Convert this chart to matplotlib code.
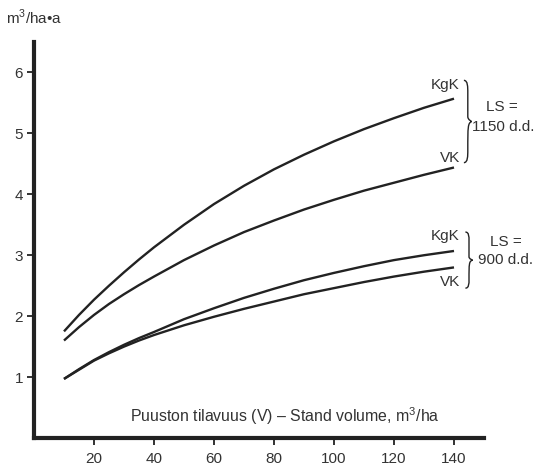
import matplotlib
matplotlib.use('Agg')
import matplotlib.pyplot as plt
from matplotlib.path import Path
from matplotlib.patches import PathPatch

plt.rcParams['font.family'] = ['Liberation Sans', 'DejaVu Sans']
plt.rcParams['mathtext.fontset'] = 'custom'
plt.rcParams['mathtext.rm'] = 'Liberation Sans'

# stand volume, m3/ha
V = [10, 15, 20, 25, 30, 35, 40, 50, 60, 70, 80, 90, 100, 110, 120, 130, 140]

# growth, m3/ha/a
KgK_1150 = [1.75, 2.02, 2.27, 2.50, 2.72, 2.93, 3.13, 3.50, 3.84, 4.14, 4.41,
            4.65, 4.87, 5.07, 5.25, 5.42, 5.57]
VK_1150 = [1.60, 1.82, 2.02, 2.20, 2.36, 2.51, 2.65, 2.92, 3.16, 3.38, 3.57,
           3.75, 3.91, 4.06, 4.19, 4.32, 4.44]
KgK_900 = [0.97, 1.13, 1.28, 1.41, 1.53, 1.64, 1.74, 1.95, 2.13, 2.30, 2.45,
           2.59, 2.71, 2.82, 2.92, 3.00, 3.07]
VK_900 = [0.97, 1.12, 1.27, 1.39, 1.50, 1.60, 1.69, 1.85, 1.99, 2.12, 2.24,
          2.36, 2.46, 2.56, 2.65, 2.73, 2.80]

xticks = [20, 40, 60, 80, 100, 120, 140]
yticks = [1, 2, 3, 4, 5, 6]

col = '#222222'
tcol = '#333333'
fs = 11


def brace(ax, x0, ytop, ybot, w):
    # right curly brace "}" drawn as a thin path
    ym = (ytop + ybot) / 2
    h = ytop - ybot
    xa = x0 + w * 0.5
    xt = x0 + w
    verts = [(x0, ytop),
             (xa, ytop), (xa, ytop - h * 0.08), (xa, ytop - h * 0.15),
             (xa, ym + h * 0.06),
             (xa, ym + h * 0.02), (xt, ym), (xt, ym),
             (xa, ym - h * 0.02), (xa, ym - h * 0.06),
             (xa, ybot + h * 0.15),
             (xa, ybot + h * 0.08), (xa, ybot), (x0, ybot)]
    codes = [Path.MOVETO,
             Path.CURVE4, Path.CURVE4, Path.CURVE4,
             Path.LINETO,
             Path.CURVE4, Path.CURVE4, Path.CURVE4,
             Path.CURVE4, Path.CURVE4,
             Path.CURVE4,
             Path.CURVE4, Path.CURVE4, Path.CURVE4]
    ax.add_patch(PathPatch(Path(verts, codes), fill=False, lw=1.0, color=col,
                           clip_on=False))


fig = plt.figure(figsize=(5.35, 4.68), dpi=100)
ax = fig.add_axes([34 / 535, 1 - 438 / 468, 450 / 535, 396 / 468])

for s in [KgK_1150, VK_1150, KgK_900, VK_900]:
    ax.plot(V, s, color=col, lw=1.7, solid_capstyle='butt')

ax.set_xlim(0, 150)
ax.set_ylim(0, 6.5)
ax.spines['top'].set_visible(False)
ax.spines['right'].set_visible(False)
for sp in ['left', 'bottom']:
    ax.spines[sp].set_linewidth(3)
    ax.spines[sp].set_color(col)
ax.set_xticks(xticks)
ax.set_yticks(yticks)
ax.tick_params(direction='out', length=5, width=1.3, color=col,
               labelsize=fs, labelcolor=tcol, pad=3)
ax.tick_params(axis='x', pad=5)

fig.text(0.011, 0.948, r'm$^{\mathregular{3}}$/ha•a', fontsize=fs, color=tcol)

ax.text(32, 0.36, r'Puuston tilavuus (V) – Stand volume, m$^{\mathregular{3}}$/ha',
        va='center', fontsize=fs + 0.4, color=tcol)

# curve labels
ax.text(142, 5.79, 'KgK', ha='right', va='center', fontsize=fs, color=tcol)
ax.text(142, 4.59, 'VK', ha='right', va='center', fontsize=fs, color=tcol)
ax.text(142, 3.31, 'KgK', ha='right', va='center', fontsize=fs, color=tcol)
ax.text(142, 2.56, 'VK', ha='right', va='center', fontsize=fs, color=tcol)

brace(ax, 143.3, 5.87, 4.52, 2.6)
brace(ax, 143.8, 3.38, 2.46, 2.4)

ax.text(156, 5.43, 'LS =', ha='center', va='center', fontsize=fs, color=tcol,
        clip_on=False)
ax.text(156.3, 5.11, '1150 d.d.', ha='center', va='center', fontsize=fs,
        color=tcol, clip_on=False)
ax.text(157.3, 3.21, 'LS =', ha='center', va='center', fontsize=fs, color=tcol,
        clip_on=False)
ax.text(157.3, 2.92, '900 d.d.', ha='center', va='center', fontsize=fs,
        color=tcol, clip_on=False)

fig.savefig('out.png', dpi=100)
